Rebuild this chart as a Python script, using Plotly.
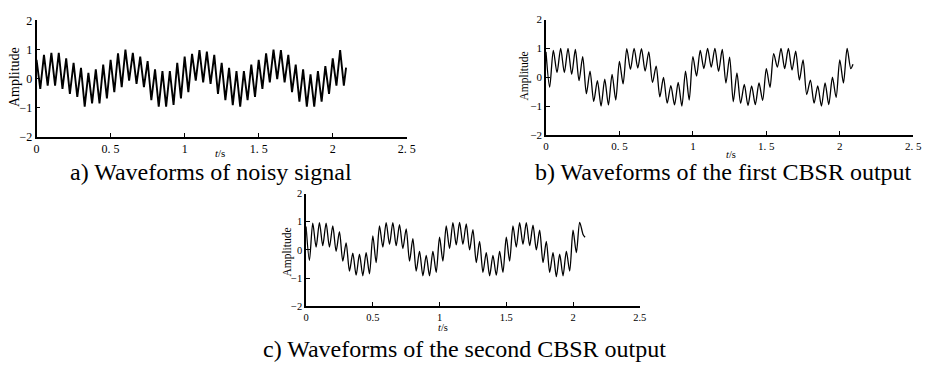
import plotly.graph_objects as go

# time axis (s): extremes of the fast oscillation, plus the end point
time_s = [0.0, 0.025, 0.05, 0.075, 0.1, 0.125, 0.15, 0.175, 0.2, 0.225,
          0.25, 0.275, 0.3, 0.325, 0.35, 0.375, 0.4, 0.425, 0.45, 0.475,
          0.5, 0.525, 0.55, 0.575, 0.6, 0.625, 0.65, 0.675, 0.7, 0.725,
          0.75, 0.775, 0.8, 0.825, 0.85, 0.875, 0.9, 0.925, 0.95, 0.975,
          1.0, 1.025, 1.05, 1.075, 1.1, 1.125, 1.15, 1.175, 1.2, 1.225,
          1.25, 1.275, 1.3, 1.325, 1.35, 1.375, 1.4, 1.425, 1.45, 1.475,
          1.5, 1.525, 1.55, 1.575, 1.6, 1.625, 1.65, 1.675, 1.7, 1.725,
          1.75, 1.775, 1.8, 1.825, 1.85, 1.875, 1.9, 1.925, 1.95, 1.975,
          2.0, 2.025, 2.05, 2.075, 2.09]

noisy_signal = [0.65, -0.35, 0.82, -0.24, 0.89, -0.24, 0.89, -0.35, 0.70, -0.52,
                0.54, -0.63, 0.37, -0.96, 0.20, -0.85, 0.32, -0.85, 0.48, -0.68,
                0.65, -0.46, 0.87, -0.29, 1.00, -0.07, 0.89, -0.18, 0.76, -0.29,
                0.60, -0.74, 0.32, -0.96, 0.26, -0.96, 0.26, -0.90, 0.54, -0.68,
                0.76, -0.46, 0.85, -0.07, 0.98, -0.13, 0.93, -0.18, 0.82, -0.52,
                0.54, -0.74, 0.37, -0.91, 0.26, -0.96, 0.26, -0.74, 0.48, -0.63,
                0.65, -0.35, 0.87, -0.13, 1.00, -0.02, 0.98, -0.13, 0.82, -0.46,
                0.48, -0.79, 0.32, -0.96, 0.15, -0.96, 0.26, -0.79, 0.43, -0.52,
                0.70, -0.24, 0.98, -0.24, 0.38]

first_cbsr = [0.88, -0.34, 0.93, 0.16, 1.00, 0.16, 1.00, 0.10, 0.96, -0.12,
              0.71, -0.57, 0.21, -0.84, -0.12, -1.00, -0.07, -0.96, 0.10, -0.79,
              0.55, -0.23, 0.99, 0.27, 1.00, 0.32, 0.99, 0.21, 0.88, -0.18,
              0.38, -0.68, -0.01, -0.90, -0.29, -0.96, -0.18, -1.00, 0.21, -0.79,
              0.71, 0.04, 0.93, 0.30, 1.00, 0.35, 1.00, 0.20, 0.96, -0.20,
              0.70, -0.85, 0.15, -0.90, -0.25, -0.98, -0.30, -0.95, -0.20, -0.80,
              0.30, -0.35, 0.82, 0.35, 1.00, 0.30, 1.00, 0.25, 0.90, -0.10,
              0.60, -0.60, -0.10, -0.90, -0.30, -1.00, -0.20, -0.95, 0.00, -0.70,
              0.60, -0.20, 1.00, 0.30, 0.45]

second_cbsr = [0.83, -0.37, 0.95, 0.10, 0.97, 0.15, 0.95, 0.10, 0.85, -0.05,
               0.65, -0.40, 0.25, -0.75, -0.12, -0.90, -0.15, -0.92, -0.10, -0.85,
               0.50, -0.45, 0.85, 0.10, 0.97, 0.20, 0.97, 0.15, 0.90, 0.05,
               0.75, -0.40, 0.40, -0.75, -0.05, -0.92, -0.20, -0.92, -0.05, -0.80,
               0.45, -0.40, 0.85, 0.05, 0.97, 0.18, 0.98, 0.20, 0.92, 0.00,
               0.72, -0.45, 0.30, -0.80, -0.10, -0.92, -0.20, -0.90, -0.05, -0.80,
               0.45, -0.40, 0.85, 0.10, 0.97, 0.20, 0.97, 0.15, 0.88, 0.00,
               0.70, -0.45, 0.30, -0.80, -0.10, -0.95, -0.15, -0.92, -0.05, -0.75,
               0.70, -0.10, 0.98, 0.55, 0.45]

x_tickvals = [0, 0.5, 1, 1.5, 2, 2.5]
x_ticktext_ab = ["0", "0. 5", "1", "1. 5", "2", "2. 5"]
x_ticktext_c = ["0", "0.5", "1", "1.5", "2", "2.5"]
y_tickvals = [-2, -1, 0, 1, 2]
y_ticktext = ["\u22122", "\u22121", "0", "1", "2"]

captions = ["a) Waveforms of noisy signal",
            "b) Waveforms of the first CBSR output",
            "c) Waveforms of the second CBSR output"]

W, H = 940, 368
SERIF = "Liberation Serif"


def px_x(p):
    return p / W


def px_y(p):
    return 1 - p / H


fig = go.Figure()
fig.add_trace(go.Scatter(x=time_s, y=noisy_signal, mode="lines",
                         line=dict(color="black", width=1.9),
                         xaxis="x", yaxis="y", showlegend=False))
fig.add_trace(go.Scatter(x=time_s, y=first_cbsr, mode="lines",
                         line=dict(color="black", width=1.3, shape="spline", smoothing=0.8),
                         xaxis="x2", yaxis="y2", showlegend=False))
fig.add_trace(go.Scatter(x=time_s, y=second_cbsr, mode="lines",
                         line=dict(color="black", width=1.3, shape="spline", smoothing=0.8),
                         xaxis="x3", yaxis="y3", showlegend=False))


def xax(dom, anchor, ticktext, size):
    return dict(domain=dom, anchor=anchor, range=[0, 2.5], showline=True,
                linecolor="black", linewidth=1.6, ticks="inside", ticklen=4,
                tickwidth=1, tickcolor="black", showgrid=False, zeroline=False,
                tickvals=x_tickvals, ticktext=ticktext,
                tickfont=dict(family=SERIF, size=size, color="black"))


def yax(dom, anchor, size):
    return dict(domain=dom, anchor=anchor, range=[-2, 2], showline=True,
                linecolor="black", linewidth=1.6, ticks="inside", ticklen=4,
                tickwidth=1, tickcolor="black", showgrid=False, zeroline=False,
                tickvals=y_tickvals, ticktext=y_ticktext,
                tickfont=dict(family=SERIF, size=size, color="black"))


fig.update_layout(
    width=W, height=H, margin=dict(l=0, r=0, t=0, b=0),
    paper_bgcolor="white", plot_bgcolor="white",
    xaxis=xax([px_x(34), px_x(409)], "y", x_ticktext_ab, 12),
    yaxis=yax([px_y(135), px_y(14)], "x", 12),
    xaxis2=xax([px_x(550), px_x(922)], "y2", x_ticktext_ab, 11),
    yaxis2=yax([px_y(133), px_y(13)], "x2", 11),
    xaxis3=xax([px_x(307), px_x(645)], "y3", x_ticktext_c, 10.5),
    yaxis3=yax([px_y(311), px_y(194)], "x3", 10.5),
)

annots = []
# captions
for text, cx, cy in [(captions[0], 211, 172), (captions[1], 730, 172), (captions[2], 467, 356)]:
    annots.append(dict(text=text, x=px_x(cx), y=px_y(cy), xref="paper", yref="paper",
                       xanchor="center", yanchor="middle", showarrow=False,
                       font=dict(family=SERIF, size=24, color="black")))
# x axis titles
for cx, cy, sz in [(220, 152, 11), (737, 153, 10.5), (446, 333, 10.5)]:
    annots.append(dict(text="<i>t</i>/s", x=px_x(cx), y=px_y(cy), xref="paper", yref="paper",
                       xanchor="center", yanchor="middle", showarrow=False,
                       font=dict(family=SERIF, size=sz, color="black")))
# y axis titles
for cx, cy, sz in [(11, 73, 14), (528, 72, 11.5), (288, 255, 11.5)]:
    annots.append(dict(text="Amplitude", x=px_x(cx), y=px_y(cy), xref="paper", yref="paper",
                       xanchor="center", yanchor="middle", showarrow=False, textangle=-90,
                       font=dict(family=SERIF, size=sz, color="black")))
fig.update_layout(annotations=annots)

fig.write_html("out.html")
